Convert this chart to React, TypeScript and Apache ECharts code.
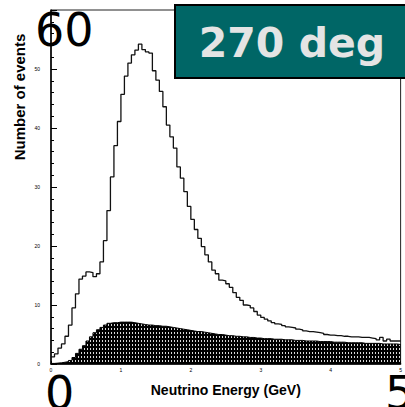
import React, { useEffect, useRef } from "react";
import * as echarts from "echarts";

const BIN_WIDTH = 0.05;

const allEvents = [
  1.2, 1.7, 2.7, 3.4, 4.7, 6.6, 9.5, 11.9, 14.4, 14.9,
  15.6, 15.5, 14.8, 15.3, 17.3, 20.9, 26.0, 31.7, 37.0, 41.1,
  45.7, 48.8, 51.0, 52.4, 53.2, 54.2, 53.3, 52.9, 52.7, 49.7,
  48.1, 46.2, 43.6, 40.5, 38.5, 36.6, 33.4, 31.5, 29.2, 26.7,
  24.5, 22.8, 21.3, 19.9, 18.5, 17.3, 15.9, 15.3, 14.2, 14.1,
  13.6, 13.0, 12.1, 11.3, 10.8, 10.0, 9.9, 9.5, 8.9, 8.3,
  7.9, 7.6, 7.3, 7.0, 6.8, 6.7, 6.5, 6.3, 6.2, 6.1,
  5.9, 5.8, 5.6, 5.5, 5.5, 5.4, 5.3, 5.2, 5.0, 4.9,
  4.9, 4.8, 4.8, 4.7, 4.7, 4.6, 4.6, 4.6, 4.5, 4.5,
  4.5, 4.4, 4.3, 4.1, 4.5, 3.9, 4.2, 3.9, 3.9, 3.9,
];

const shadedEvents = [
  0.1, 0.15, 0.2, 0.3, 0.4, 0.6, 1.1, 1.8, 2.5, 3.1,
  3.9, 4.6, 5.3, 5.8, 6.2, 6.6, 6.9, 7.0, 7.0, 7.1,
  7.1, 7.1, 7.1, 7.0, 6.9, 6.8, 6.7, 6.6, 6.6, 6.5,
  6.5, 6.4, 6.4, 6.3, 6.2, 6.1, 6.0, 5.9, 5.8, 5.7,
  5.6, 5.5, 5.5, 5.4, 5.3, 5.2, 5.1, 5.0, 5.0, 4.9,
  4.8, 4.8, 4.7, 4.7, 4.6, 4.6, 4.5, 4.5, 4.4, 4.4,
  4.3, 4.3, 4.3, 4.2, 4.2, 4.2, 4.1, 4.1, 4.1, 4.0,
  4.0, 4.0, 3.9, 3.9, 3.9, 3.9, 3.8, 3.8, 3.8, 3.8,
  3.7, 3.7, 3.7, 3.7, 3.6, 3.6, 3.6, 3.6, 3.6, 3.5,
  3.5, 3.5, 3.5, 3.5, 3.4, 3.4, 3.4, 3.4, 3.4, 3.3,
];

const xTicks = [0, 1, 2, 3, 4, 5];
const yTicks = [0, 10, 20, 30, 40, 50, 60];

const titleText = "270 deg";
const xName = "Neutrino Energy (GeV)";
const yName = "Number of events";
const cornerLabels = { yMax: "60", xMin: "0", xMax: "5" };

function toSteps(values: number[]) {
  const pts = values.map((v, i) => [i * BIN_WIDTH, v]);
  pts.push([values.length * BIN_WIDTH, values[values.length - 1]]);
  return pts;
}

export default function App() {
  const ref = useRef<HTMLDivElement>(null);
  useEffect(() => {
    if (!ref.current) return;
    const chart = echarts.init(ref.current, undefined, { renderer: "svg" });
    const bigFont = '46px "DejaVu Sans", sans-serif';
    chart.setOption({
      animation: false,
      backgroundColor: "#fff",
      grid: {
        left: 51,
        right: 2,
        top: 10,
        bottom: 43,
        show: true,
        borderColor: "#222",
        borderWidth: 1,
        backgroundColor: "transparent",
      },
      xAxis: {
        type: "value",
        min: xTicks[0],
        max: xTicks[xTicks.length - 1],
        interval: 1,
        name: xName,
        nameLocation: "middle",
        nameGap: 19,
        nameTextStyle: {
          fontFamily: '"Liberation Sans", Arial, sans-serif',
          fontWeight: "bold",
          fontSize: 14,
          color: "#000",
        },
        axisLine: { lineStyle: { color: "#000", width: 1.5 } },
        axisTick: { inside: true, length: 3, lineStyle: { color: "#000" } },
        axisLabel: { fontSize: 5, color: "#000", margin: 3 },
        splitLine: { show: false },
      },
      yAxis: {
        type: "value",
        min: yTicks[0],
        max: yTicks[yTicks.length - 1],
        interval: 10,
        axisLine: { show: true, lineStyle: { color: "#000", width: 1.5 } },
        axisTick: { show: true, inside: true, length: 6, lineStyle: { color: "#000" } },
        minorTick: { show: true, splitNumber: 5, length: 3, lineStyle: { color: "#000" } },
        axisLabel: {
          fontSize: 5,
          color: "#000",
          margin: 11,
          formatter: (v: number) => (v === 60 ? "" : String(v)),
        },
        splitLine: { show: false },
      },
      series: [
        {
          type: "line",
          step: "end",
          data: toSteps(shadedEvents),
          symbol: "none",
          lineStyle: { color: "#000", width: 1 },
          itemStyle: {
            color: "#000",
            decal: {
              symbol: "rect",
              symbolSize: 1,
              dashArrayX: [1, 2],
              dashArrayY: [2, 1.5],
              rotation: 0,
              color: "rgba(255,255,255,0.85)",
            },
          },
          areaStyle: { color: "#000", opacity: 1 },
          z: 2,
        },
        {
          type: "line",
          step: "end",
          data: toSteps(allEvents),
          symbol: "none",
          lineStyle: { color: "#111", width: 1.3 },
          itemStyle: { color: "#111" },
          z: 3,
        },
      ],
      graphic: [
        {
          type: "text",
          rotation: Math.PI / 2,
          x: 19,
          y: 97,
          style: {
            text: yName,
            font: 'bold 15px "Liberation Sans", Arial, sans-serif',
            fill: "#000",
            textAlign: "center",
            textVerticalAlign: "middle",
          },
          z: 10,
        },
        {
          type: "rect",
          shape: { x: 175, y: 5, width: 240, height: 73 },
          style: { fill: "#006666", stroke: "#000", lineWidth: 2 },
          z: 10,
        },
        {
          type: "text",
          x: 292,
          y: 43,
          style: {
            text: titleText,
            font: 'bold 41px "DejaVu Sans", sans-serif',
            fill: "#e4e4e4",
            textAlign: "center",
            textVerticalAlign: "middle",
          },
          z: 11,
        },
        {
          type: "text",
          x: 35,
          y: 30,
          style: {
            text: cornerLabels.yMax,
            font: bigFont,
            fill: "#000",
            textAlign: "left",
            textVerticalAlign: "middle",
          },
          z: 12,
        },
        {
          type: "text",
          x: 45,
          y: 393,
          style: {
            text: cornerLabels.xMin,
            font: bigFont,
            fill: "#000",
            textAlign: "left",
            textVerticalAlign: "middle",
          },
          z: 12,
        },
        {
          type: "text",
          x: 385,
          y: 393,
          style: {
            text: cornerLabels.xMax,
            font: bigFont,
            fill: "#000",
            textAlign: "left",
            textVerticalAlign: "middle",
          },
          z: 12,
        },
      ],
    });
    return () => chart.dispose();
  }, []);
  return <div ref={ref} style={{ width: 405, height: 407, position: "absolute", left: 0, top: 0 }} />;
}
